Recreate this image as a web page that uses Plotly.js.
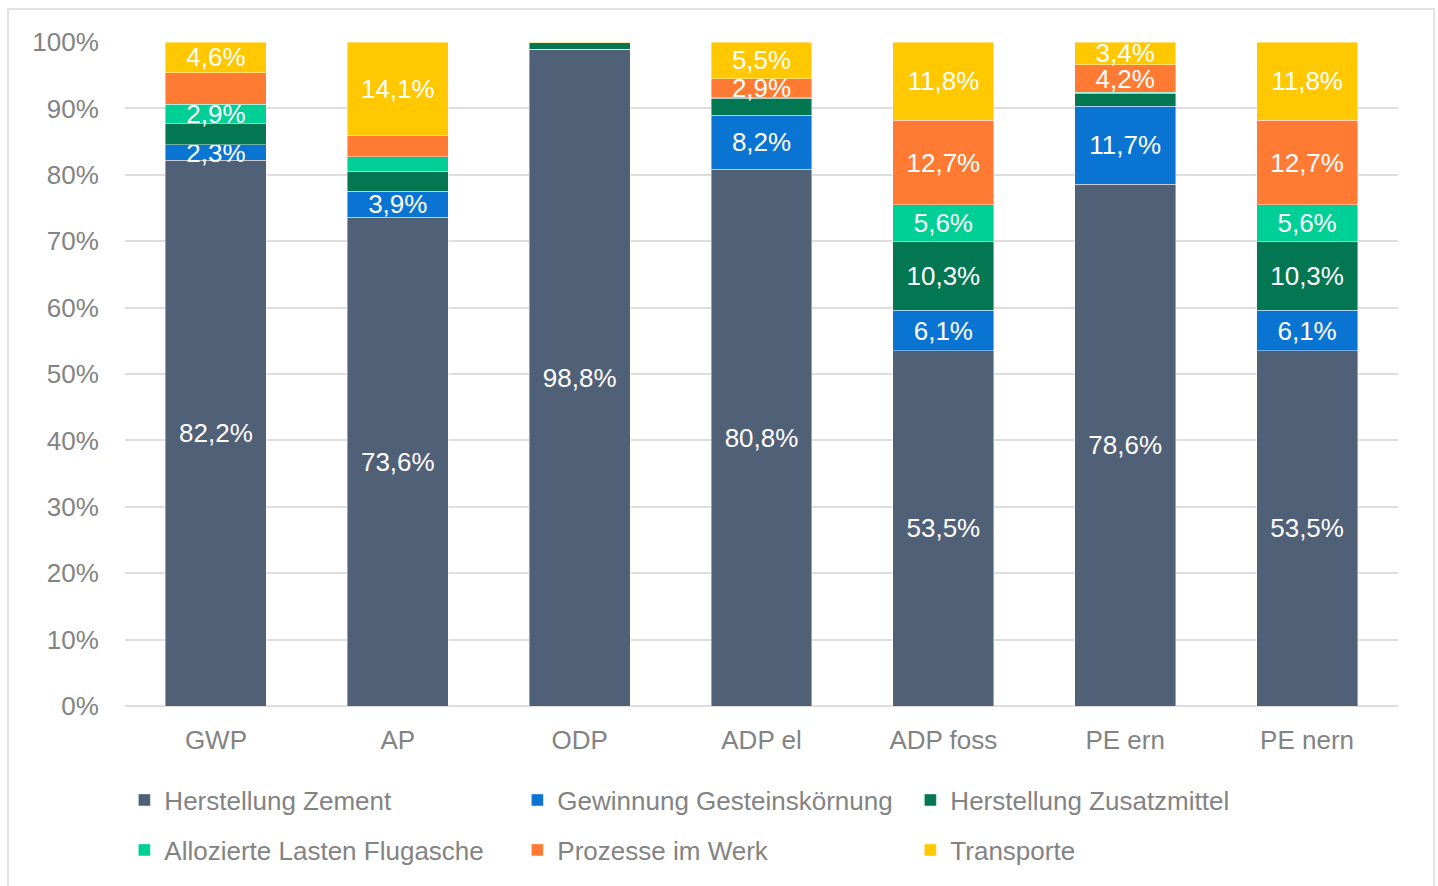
<!DOCTYPE html>
<html>
<head>
<meta charset="utf-8">
<script src="https://cdn.plot.ly/plotly-3.0.1.min.js"></script>
<style>
  html, body { margin: 0; padding: 0; background: #fff; }
  #wrap { position: relative; width: 1438px; height: 886px; overflow: hidden; }
  #chart { position: absolute; left: 0; top: 0; width: 1438px; height: 886px; }
  #frame { position: absolute; left: 7px; top: 8px; width: 1424px; height: 900px;
           border: 2px solid #e3e3e3; pointer-events: none; }
</style>
</head>
<body>
<div id="wrap">
  <div id="chart"></div>
  <div id="frame"></div>
</div>
<script>
// Categories (impact indicators)
const categories = ["GWP", "AP", "ODP", "ADP el", "ADP foss", "PE ern", "PE nern"];

// Series values (% share)
const herstellungZement      = [82.2, 73.6, 98.8, 80.8, 53.5, 78.6, 53.5];
const gewinnungGestein       = [2.3, 3.9, 0.1, 8.2, 6.1, 11.7, 6.1];
const herstellungZusatz      = [3.2, 3.0, 1.0, 2.5, 10.3, 2.0, 10.3];
const flugasche              = [2.9, 2.2, 0.0, 0.1, 5.6, 0.1, 5.6];
const prozesseWerk           = [4.8, 3.2, 0.0, 2.9, 12.7, 4.2, 12.7];
const transporte             = [4.6, 14.1, 0.1, 5.5, 11.8, 3.4, 11.8];

// Which segments carry a data label
const showZement    = [1, 1, 1, 1, 1, 1, 1];
const showGestein   = [1, 1, 0, 1, 1, 1, 1];
const showZusatz    = [0, 0, 0, 0, 1, 0, 1];
const showFlugasche = [1, 0, 0, 0, 1, 0, 1];
const showProzesse  = [0, 0, 0, 1, 1, 1, 1];
const showTransport = [1, 1, 0, 1, 1, 1, 1];

const seriesNames = ["Herstellung Zement", "Gewinnung Gesteinskörnung", "Herstellung Zusatzmittel",
                     "Allozierte Lasten Flugasche", "Prozesse im Werk", "Transporte"];
const seriesColors = ["#506077", "#0a74d3", "#037652", "#00cf96", "#ff7b33", "#ffc800"];

const FONT = "Liberation Sans, Arial, Helvetica, sans-serif";
const GREY = "#838383";

function fmt(v) { return v.toFixed(1).replace(".", ",") + "%"; }

const seriesData = [herstellungZement, gewinnungGestein, herstellungZusatz, flugasche, prozesseWerk, transporte];
const seriesShow = [showZement, showGestein, showZusatz, showFlugasche, showProzesse, showTransport];

const traces = seriesData.map((vals, i) => ({
  type: "bar",
  name: seriesNames[i],
  x: categories,
  y: vals,
  text: vals.map((v, j) => seriesShow[i][j] ? fmt(v) : ""),
  textposition: "inside",
  insidetextanchor: "middle",
  constraintext: "none",
  textangle: 0,
  texttemplate: "%{text}",
  insidetextfont: { family: FONT, size: 26, color: "#ffffff" },
  marker: { color: seriesColors[i], line: { width: 0.6, color: "rgba(255,255,255,0.7)" } },
  hoverinfo: "skip",
  legend: i < 3 ? "legend" : "legend2"
}));

const layout = {
  width: 1438,
  height: 886,
  paper_bgcolor: "#ffffff",
  plot_bgcolor: "#ffffff",
  margin: { l: 125, r: 40, t: 42, b: 180 },
  barmode: "stack",
  bargap: 0.445,
  showlegend: true,
  font: { family: FONT, size: 26, color: GREY },
  xaxis: {
    type: "category",
    showgrid: false,
    showline: false,
    ticks: "outside",
    ticklen: 11,
    tickcolor: "rgba(0,0,0,0)",
    tickfont: { family: FONT, size: 26, color: GREY },
    fixedrange: true
  },
  yaxis: {
    range: [0, 100],
    tickvals: [0, 10, 20, 30, 40, 50, 60, 70, 80, 90, 100],
    ticktext: ["0%", "10%", "20%", "30%", "40%", "50%", "60%", "70%", "80%", "90%", "100%"],
    showgrid: true,
    gridcolor: "#dedede",
    gridwidth: 2,
    zeroline: true,
    zerolinecolor: "#dedede",
    zerolinewidth: 2,
    showline: false,
    ticks: "outside",
    ticklen: 20,
    tickcolor: "rgba(0,0,0,0)",
    tickfont: { family: FONT, size: 26, color: GREY },
    fixedrange: true
  },
  legend: {
    orientation: "h",
    x: -0.0005, xanchor: "left",
    y: -0.1416, yanchor: "middle",
    entrywidth: 348, entrywidthmode: "pixels",
    traceorder: "normal",
    font: { family: FONT, size: 26, color: GREY },
    bgcolor: "rgba(0,0,0,0)"
  },
  legend2: {
    orientation: "h",
    x: -0.0005, xanchor: "left",
    y: -0.2169, yanchor: "middle",
    entrywidth: 348, entrywidthmode: "pixels",
    traceorder: "normal",
    font: { family: FONT, size: 26, color: GREY },
    bgcolor: "rgba(0,0,0,0)"
  }
};

Plotly.newPlot("chart", traces, layout, { displayModeBar: false, staticPlot: true });
</script>
</body>
</html>
